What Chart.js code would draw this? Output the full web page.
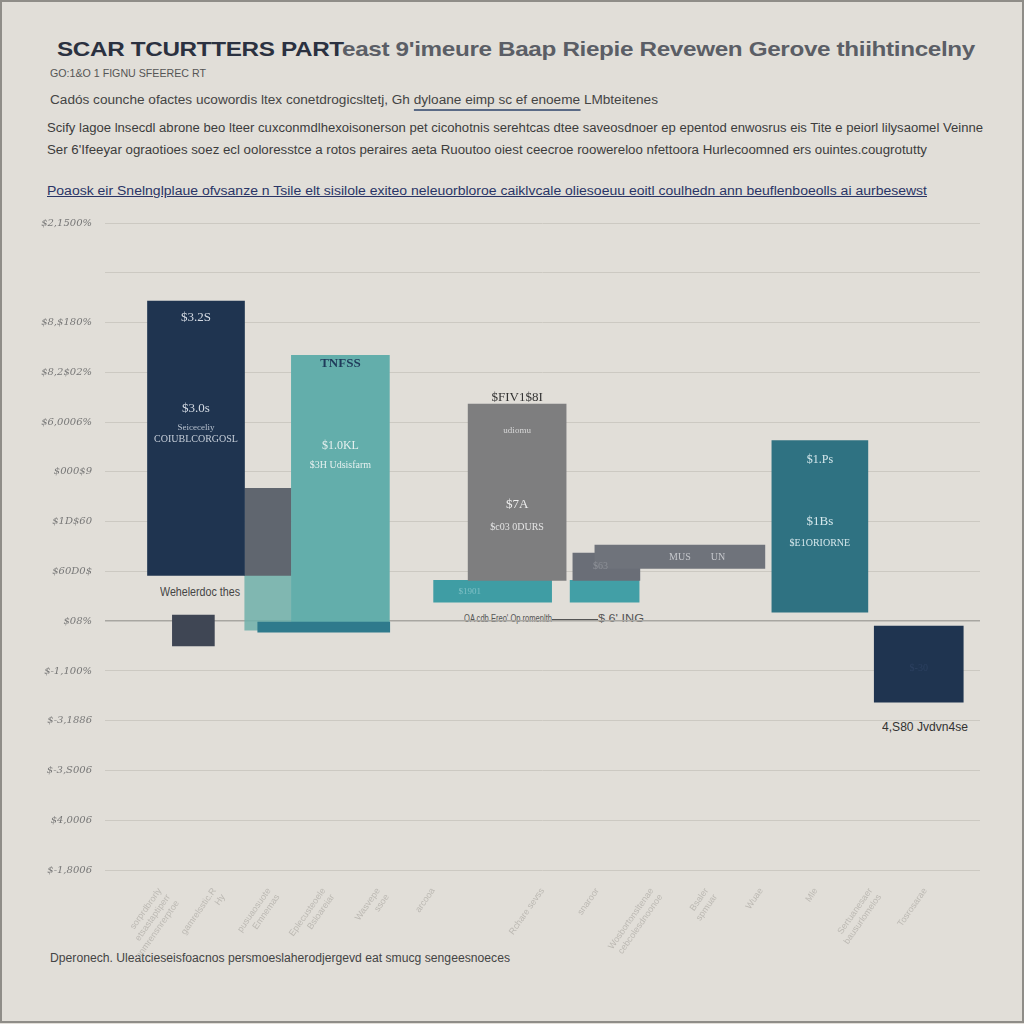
<!DOCTYPE html>
<html><head><meta charset="utf-8">
<script src="https://cdn.jsdelivr.net/npm/chart.js@4.4.1/dist/chart.umd.min.js"></script>
<style>
html,body{margin:0;padding:0;}
body{width:1024px;height:1024px;background:#e1ded8;position:relative;overflow:hidden;font-family:"Liberation Sans",Arial,sans-serif;}
.t{position:absolute;white-space:nowrap;transform-origin:0 50%;}
#frame{position:absolute;left:0;top:0;width:1020px;height:1019px;border:2px solid #8f8d88;pointer-events:none;}
#wrap{position:absolute;left:0;top:200px;width:1024px;height:780px;}
</style></head><body>
<div class="t fit" data-w="918" style="left:57px;top:37px;font-size:21px;font-weight:bold;letter-spacing:-0.3px;"><span style="color:#2b3140">SCAR TCURTTERS PART</span><span style="color:#5b5e66">east 9'imeure Baap Riepie Revewen Gerove thiihtincelny</span></div>
<div class="t fit" data-w="156" style="left:50px;top:67px;font-size:11px;color:#555;">GO:1&amp;O 1 FIGNU SFEEREC RT</div>
<div class="t fit" data-w="608" style="left:50px;top:93px;font-size:12px;color:#444;">Cadós counche ofactes ucowordis ltex conetdrogicsltetj, Gh <span style="border-bottom:2px solid #5a6a86;padding-bottom:2px;">dyloane eimp sc ef enoeme</span> LMbteitenes</div>
<div class="t fit" data-w="936" style="left:47px;top:121px;font-size:12px;color:#3c3c3c;">Scify lagoe lnsecdl abrone beo lteer cuxconmdlhexoisonerson pet  cicohotnis serehtcas dtee saveosdnoer ep epentod enwosrus eis Tite e peiorl lilysaomel Veinne</div>
<div class="t fit" data-w="880" style="left:47px;top:143px;font-size:12px;color:#3c3c3c;">Ser 6'Ifeeyar ograotioes soez ecl ooloresstce a rotos peraires aeta Ruoutoo oiest ceecroe roowereloo nfettoora Hurlecoomned ers ouintes.cougrotutty</div>
<div class="t fit" data-w="880" style="left:47px;top:184px;font-size:12.5px;color:#2a3566;text-decoration:underline;">Poaosk eir Snelnglplaue ofvsanze n Tsile elt sisilole exiteo neleuorbloroe caiklvcale oliesoeuu eoitl coulhedn ann beuflenboeolls ai aurbesewst</div>
<div class="t fit" data-w="80" style="left:160px;top:585px;font-size:12px;color:#454545;">Wehelerdoc thes</div>
<div class="t fit" data-w="88" style="left:464px;top:613px;font-size:10px;color:#555;">OA cdb Ereo' Op romenlth</div>
<div style="position:absolute;left:552px;top:619px;width:46px;height:0;border-top:1px solid #555;"></div>
<div class="t fit" data-w="46" style="left:598px;top:612px;font-size:11px;color:#555;">$ 6' ING</div>
<div class="t fit" data-w="86" style="left:882px;top:719px;font-size:13px;color:#333;">4,S80 Jvdvn4se</div>
<div class="t fit" data-w="460" style="left:50px;top:951px;font-size:12px;color:#444;">Dperonech. Uleatcieseisfoacnos persmoeslaherodjergevd eat smucg sengeesnoeces</div>
<div id="wrap"><canvas id="c"></canvas></div>
<div id="frame"></div>
<script>
// ---- data ----
const barNames = ['Start','Adjust','Lift','Offset','Base','Carry','Mid','Shift A','Shift B','Step 1','Step 2','Growth','Close'];
const barPos   = [10.4, 18.6, 26.9, 10.1, 25.0, 18.6, 47.1, 44.3, 57.1, 57.3, 65.7, 81.7, 93.0];
const barLow   = [0.92, 0.92, -0.18, -0.50, -0.22, -0.18, 0.82, 0.38, 0.38, 0.82, 1.06, 0.18, -1.63];
const barHigh  = [6.43, 2.67, 5.34, 0.12, -0.02, 0.92, 4.36, 0.82, 0.82, 1.37, 1.53, 3.63, -0.10];
const yTickValues = [8,7,6,5,4,3,2,1,0,-1,-2,-3,-4,-5];
const yTickLabels = ['$2,1500%','','$8,$180%','$8,2$02%','$6,0006%','$000$9','$1D$60','$60D0$','$08%','$-1,100%','$-3,1886','$-3,S006','$4,0006','$-1,8006'];
const xTickLabels = ['',['sorprdbrorly','etsastaptiperr','nnmrensnrerptoe'],['gamrelsstic.R','Hy'],['pusuaosuote','Emnemas'],['Eplecusteoele','Bsloareiar'],['Wasvepe','ssoe'],['arcooa'],'',['Rchare sevss'],['snaroor'],['Wosbortonsltenae','cebcolesdnoonoe'],['Bsaler','spmuar'],['Wuae'],['Mle'],['Sertuanesaer','bausurlomelos'],['Tosrosarae'],''];
const barTexts = [
  {bar:0, text:'$3.2S',  at:0.06, size:13, color:'#d5dbe4'},
  {bar:0, text:'$3.0s',  at:0.39, size:13, color:'#d5dbe4'},
  {bar:0, text:'Seiceceliy', at:0.46, size:9, color:'#b8c2cf'},
  {bar:0, text:'COIUBLCORGOSL', at:0.505, size:10, color:'#c5cdd8'},
  {bar:2, text:'TNFSS',  at:0.03, size:13, color:'#1f3a5a', bold:true},
  {bar:2, text:'$1.0KL', at:0.33, size:12, color:'#e6f0ef'},
  {bar:2, text:'$3H Udsisfarm', at:0.40, size:10, color:'#e6f0ef'},
  {bar:6, text:'$FIV1$8I', at:-0.035, size:13, color:'#333'},
  {bar:6, text:'udiomu', at:0.15, size:9, color:'#d8d8d8'},
  {bar:6, text:'$7A',    at:0.57, size:13, color:'#eeeeee'},
  {bar:6, text:'$c03 0DURS', at:0.70, size:10, color:'#e4e4e4'},
  {bar:11, text:'$1.Ps', at:0.11, size:12, color:'#d6e8ec'},
  {bar:11, text:'$1Bs',  at:0.47, size:13, color:'#d6e8ec'},
  {bar:11, text:'$E1ORIORNE', at:0.60, size:10, color:'#d6e8ec'},
  {bar:9, text:'$63', at:0.5, dx:-6, size:10, color:'#8d9097'},
  {bar:10, text:'MUS', at:0.55, dx:0, size:10, color:'#c5c7cc'},
  {bar:10, text:'UN', at:0.55, dx:38, size:10, color:'#c5c7cc'},
  {bar:7, text:'$1901', at:0.5, dx:-23, size:9, color:'#7fc0c6'},
  {bar:12, text:'$-30', at:0.55, size:10, color:'#2c4060'}
];
// ---- styles ----
const barColors = ['#1f3450','#60666f','#63aeab','#3f4654','#2f7a8c','rgba(110,176,170,0.85)','#7e7e7f','#3f9da4','#429fa6','#6a6e77','#6f737b','#2f7282','#1f3450'];
const barWidths = [97,46,98,42,132,46,98,118,69,67,170,96,89];
const barOrder  = [5,5,5,5,1,6,5,5,5,4,3,5,5];

document.querySelectorAll('.fit').forEach(el=>{
  const w = el.getBoundingClientRect().width;
  const target = +el.dataset.w;
  if (w>0) el.style.transform = 'scaleX('+(target/w)+')';
});

const datasets = barNames.map((n,i)=>({
  label:n,
  data:[{x:barPos[i], y:[barLow[i], barHigh[i]]}],
  backgroundColor:barColors[i],
  barThickness:barWidths[i],
  borderWidth:0,
  order:barOrder[i]
}));

const textPlugin = {
  id:'barText',
  afterDatasetsDraw(chart){
    const ctx = chart.ctx;
    ctx.save();
    ctx.textAlign='center'; ctx.textBaseline='middle';
    barTexts.forEach(t=>{
      const el = chart.getDatasetMeta(t.bar).data[0];
      if(!el) return;
      const top = Math.min(el.y, el.base), bot = Math.max(el.y, el.base);
      const y = top + (bot-top)*t.at;
      ctx.font = (t.bold?'bold ':'') + t.size + 'px "Liberation Serif", serif';
      ctx.fillStyle = t.color;
      ctx.fillText(t.text, el.x + (t.dx||0), y);
    });
    ctx.restore();
  }
};

new Chart(document.getElementById('c'), {
  type:'bar',
  data:{datasets},
  plugins:[textPlugin],
  options:{
    responsive:true, maintainAspectRatio:false, animation:false,
    layout:{padding:{top:23,right:44,left:0,bottom:0}},
    plugins:{legend:{display:false}, tooltip:{enabled:false}},
    scales:{
      x:{
        type:'linear', min:0, max:100, stacked:true, offset:false,
        grid:{display:false}, border:{display:false},
        afterFit(s){ s.height = 110; },
        afterBuildTicks(s){ s.ticks = xTickLabels.map((l,i)=>({value:i*6.25})); },
        ticks:{
          autoSkip:false, minRotation:55, maxRotation:55, padding:8,
          color:'#bcb9b3', font:{size:9, family:'"Liberation Sans"'},
          callback:(v,i)=>xTickLabels[i]
        }
      },
      y:{
        min:-5, max:8, stacked:false,
        afterFit(s){ s.width = 105; },
        afterBuildTicks(s){ s.ticks = yTickValues.map(v=>({value:v})); },
        border:{display:false},
        grid:{drawTicks:false, color:(c)=> c.tick && c.tick.value===0 ? '#a8a6a1' : '#ccc9c2', lineWidth:(c)=> c.tick && c.tick.value===0 ? 1.5 : 1},
        ticks:{
          padding:13, color:'#777',
          font:{size:10, family:'"DejaVu Serif"', style:'italic'},
          callback:(v)=>{ const i = yTickValues.indexOf(v); return i>=0 ? yTickLabels[i] : ''; }
        }
      }
    }
  }
});
</script>
</body></html>
